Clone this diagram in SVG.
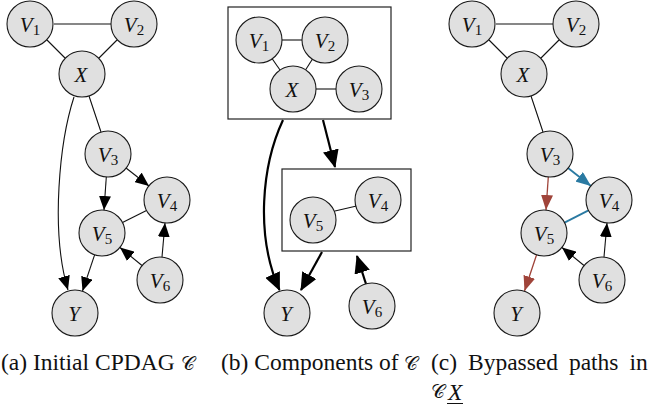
<svg xmlns="http://www.w3.org/2000/svg" width="649" height="410" viewBox="0 0 649 410">
  <style>
    .node circle { fill: #e0e0e0; stroke: #1a1a1a; stroke-width: 1.1; }
    .lbl { font-family: "Liberation Serif", "Times New Roman", serif; font-size: 21px; font-style: italic; text-anchor: middle; fill: #111; }
    .lbl .sub { font-size: 15px; font-style: normal; }
    .e { fill: none; stroke: #111; stroke-width: 1.1; }
    .thick { fill: none; stroke: #000; stroke-width: 2.2; }
    .red { fill: none; stroke: #a0443a; stroke-width: 1.3; }
    .blue { fill: none; stroke: #2a7aa2; stroke-width: 1.8; }
    .box { fill: none; stroke: #222; stroke-width: 1.2; }
    .cap { font-family: "Liberation Serif", "Times New Roman", serif; font-size: 23.5px; fill: #111; }
    .cal { font-family: "DejaVu Serif", "Noto Sans", serif; font-size: 19px; font-weight: normal; }
  </style>
  <defs>
    <marker id="ah" markerUnits="userSpaceOnUse" markerWidth="14" markerHeight="12" refX="14" refY="6" orient="auto">
      <path d="M0,0 L14,6 L0,12 z" fill="#000"/>
    </marker>
    <marker id="ahThick" markerUnits="userSpaceOnUse" markerWidth="18" markerHeight="16" refX="17" refY="8" orient="auto">
      <path d="M0,0 L18,8 L0,16 z" fill="#000"/>
    </marker>
    <marker id="ahRed" markerUnits="userSpaceOnUse" markerWidth="15" markerHeight="12" refX="15" refY="6" orient="auto">
      <path d="M0,0 L15,6 L0,12 z" fill="#a0443a"/>
    </marker>
    <marker id="ahBlue" markerUnits="userSpaceOnUse" markerWidth="15" markerHeight="12" refX="15" refY="6" orient="auto">
      <path d="M0,0 L15,6 L0,12 z" fill="#2a7aa2"/>
    </marker>
  </defs>

  <!-- (a) initial CPDAG: connectors -->
  <g id="edges-a">
    <line class="e" x1="54" y1="24" x2="111" y2="24"/>
    <line class="e" x1="47" y1="40" x2="65" y2="58"/>
    <line class="e" x1="117" y1="40" x2="99" y2="58"/>
    <line class="e" x1="89" y1="96" x2="101" y2="132"/>
    <path class="e" d="M74,97 C60,140 50,230 68,290" marker-end="url(#ah)"/>
    <line class="e" x1="126" y1="168" x2="149" y2="186" marker-end="url(#ah)"/>
    <line class="e" x1="106.3" y1="177" x2="104" y2="210" marker-end="url(#ah)"/>
    <line class="e" x1="122.5" y1="222.6" x2="146.5" y2="210.4"/>
    <line class="e" x1="142" y1="265.5" x2="120" y2="247.5" marker-end="url(#ah)"/>
    <line class="e" x1="162" y1="257" x2="165" y2="223" marker-end="url(#ah)"/>
    <line class="e" x1="94.6" y1="254.8" x2="82.5" y2="291" marker-end="url(#ah)"/>
  </g>
  <g id="a-V1" class="node"><circle cx="30" cy="24" r="23"/><text class="lbl" x="30" y="31.5">V<tspan class="sub" dy="3">1</tspan></text></g>
  <g id="a-V2" class="node"><circle cx="134" cy="24" r="23"/><text class="lbl" x="134" y="31.5">V<tspan class="sub" dy="3">2</tspan></text></g>
  <g id="a-X" class="node"><circle cx="82" cy="74" r="23"/><text class="lbl" x="81" y="81.5">X</text></g>
  <g id="a-V3" class="node"><circle cx="108" cy="154" r="23"/><text class="lbl" x="108" y="161.5">V<tspan class="sub" dy="3">3</tspan></text></g>
  <g id="a-V4" class="node"><circle cx="167" cy="200" r="23"/><text class="lbl" x="167" y="207.5">V<tspan class="sub" dy="3">4</tspan></text></g>
  <g id="a-V5" class="node"><circle cx="102" cy="233" r="23"/><text class="lbl" x="102" y="240.5">V<tspan class="sub" dy="3">5</tspan></text></g>
  <g id="a-V6" class="node"><circle cx="160" cy="280" r="23"/><text class="lbl" x="160" y="287.5">V<tspan class="sub" dy="3">6</tspan></text></g>
  <g id="a-Y" class="node"><circle cx="75" cy="313" r="23"/><text class="lbl" x="74" y="320.5">Y</text></g>

  <!-- (b) components: boxes, connectors, nodes -->
  <g id="b-comp1"><rect class="box" x="228" y="7" width="163" height="112"/></g>
  <g id="b-comp2"><rect class="box" x="282" y="169" width="129" height="82"/></g>
  <g id="edges-b">
    <line class="e" x1="282" y1="40" x2="302" y2="40"/>
    <line class="e" x1="272" y1="58.5" x2="280" y2="70"/>
    <line class="e" x1="312.5" y1="59" x2="305.5" y2="70"/>
    <line class="e" x1="316" y1="89" x2="336" y2="89"/>
    <line class="e" x1="335" y1="211" x2="356.5" y2="206"/>
    <path class="thick" d="M283,120 C262,165 255,235 279.5,290" marker-end="url(#ahThick)"/>
    <line class="thick" x1="323" y1="120" x2="335" y2="167" marker-end="url(#ahThick)"/>
    <line class="thick" x1="322" y1="252" x2="301" y2="290" marker-end="url(#ahThick)"/>
    <line class="thick" x1="366" y1="284" x2="357" y2="256" marker-end="url(#ahThick)"/>
  </g>
  <g id="b-V1" class="node"><circle cx="259" cy="40" r="23"/><text class="lbl" x="259" y="47.5">V<tspan class="sub" dy="3">1</tspan></text></g>
  <g id="b-V2" class="node"><circle cx="325" cy="40" r="23"/><text class="lbl" x="325" y="47.5">V<tspan class="sub" dy="3">2</tspan></text></g>
  <g id="b-X" class="node"><circle cx="293" cy="89" r="23"/><text class="lbl" x="292" y="96.5">X</text></g>
  <g id="b-V3" class="node"><circle cx="359" cy="89" r="23"/><text class="lbl" x="359" y="96.5">V<tspan class="sub" dy="3">3</tspan></text></g>
  <g id="b-V5" class="node"><circle cx="313" cy="220" r="23"/><text class="lbl" x="313" y="227.5">V<tspan class="sub" dy="3">5</tspan></text></g>
  <g id="b-V4" class="node"><circle cx="378" cy="200" r="23"/><text class="lbl" x="378" y="207.5">V<tspan class="sub" dy="3">4</tspan></text></g>
  <g id="b-Y" class="node"><circle cx="287" cy="313" r="23"/><text class="lbl" x="286" y="320.5">Y</text></g>
  <g id="b-V6" class="node"><circle cx="372" cy="306" r="23"/><text class="lbl" x="372" y="313.5">V<tspan class="sub" dy="3">6</tspan></text></g>

  <!-- (c) bypassed paths: same layout as (a), shifted right -->
  <g id="edges-c">
    <line class="e" x1="496" y1="24" x2="553" y2="24"/>
    <line class="e" x1="489" y1="40" x2="507" y2="58"/>
    <line class="e" x1="559" y1="40" x2="541" y2="58"/>
    <line class="e" x1="531" y1="96" x2="543" y2="132"/>
    <line class="blue" x1="568" y1="168" x2="591" y2="186" marker-end="url(#ahBlue)"/>
    <line class="blue" x1="564.5" y1="222.6" x2="588.5" y2="210.4"/>
    <line class="red" x1="548.3" y1="177" x2="546" y2="210" marker-end="url(#ahRed)"/>
    <line class="red" x1="536.6" y1="254.8" x2="524.5" y2="291" marker-end="url(#ahRed)"/>
    <line class="e" x1="584" y1="265.5" x2="562" y2="247.5" marker-end="url(#ah)"/>
    <line class="e" x1="604" y1="257" x2="607" y2="223" marker-end="url(#ah)"/>
  </g>
  <g id="c-V1" class="node"><circle cx="472" cy="24" r="23"/><text class="lbl" x="472" y="31.5">V<tspan class="sub" dy="3">1</tspan></text></g>
  <g id="c-V2" class="node"><circle cx="576" cy="24" r="23"/><text class="lbl" x="576" y="31.5">V<tspan class="sub" dy="3">2</tspan></text></g>
  <g id="c-X" class="node"><circle cx="524" cy="74" r="23"/><text class="lbl" x="523" y="81.5">X</text></g>
  <g id="c-V3" class="node"><circle cx="550" cy="154" r="23"/><text class="lbl" x="550" y="161.5">V<tspan class="sub" dy="3">3</tspan></text></g>
  <g id="c-V4" class="node"><circle cx="609" cy="200" r="23"/><text class="lbl" x="609" y="207.5">V<tspan class="sub" dy="3">4</tspan></text></g>
  <g id="c-V5" class="node"><circle cx="544" cy="233" r="23"/><text class="lbl" x="544" y="240.5">V<tspan class="sub" dy="3">5</tspan></text></g>
  <g id="c-V6" class="node"><circle cx="602" cy="280" r="23"/><text class="lbl" x="602" y="287.5">V<tspan class="sub" dy="3">6</tspan></text></g>
  <g id="c-Y" class="node"><circle cx="517" cy="313" r="23"/><text class="lbl" x="516" y="320.5">Y</text></g>

  <!-- sub-figure captions -->
  <g id="captions">
    <text class="cap" x="1" y="370">(a) Initial CPDAG <tspan class="cal">𝒞</tspan></text>
    <text class="cap" x="221" y="370">(b) Components of <tspan class="cal">𝒞</tspan></text>
    <text class="cap" x="431" y="370" word-spacing="5">(c) Bypassed paths in</text>
    <text class="cap" x="431" y="398"><tspan class="cal">𝒞</tspan></text>
    <text class="cap" x="448" y="400" font-size="17" font-style="italic">X</text>
    <line x1="447" y1="403.5" x2="463" y2="403.5" stroke="#111" stroke-width="1"/>
  </g>
</svg>
